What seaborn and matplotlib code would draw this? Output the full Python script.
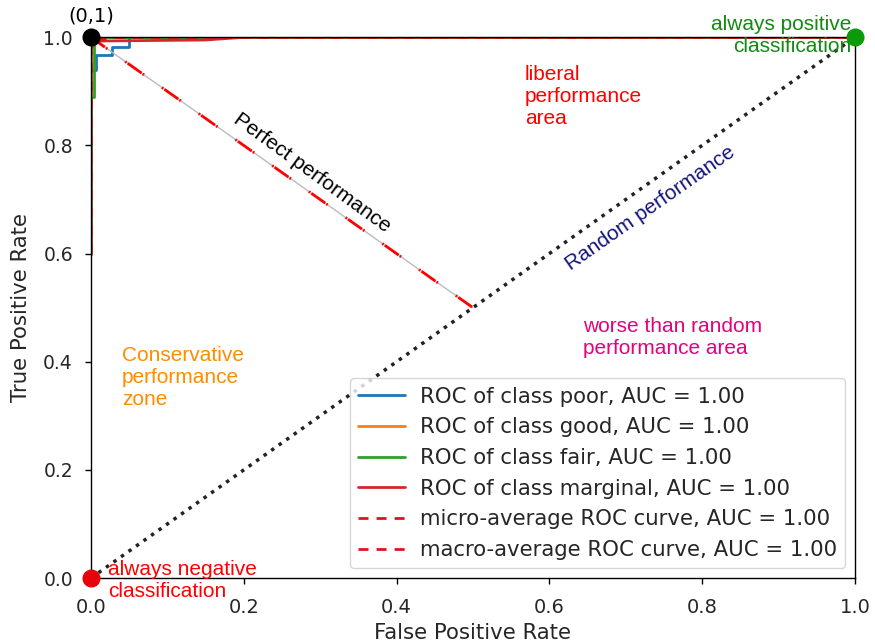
import matplotlib
matplotlib.use("Agg")
import matplotlib.pyplot as plt
import seaborn as sns
import pandas as pd

# ---- data ----
fpr_poor = [0.0, 0.0, 0.007, 0.007, 0.028, 0.028, 0.05, 0.05, 1.0]
tpr_poor = [0.6, 0.94, 0.94, 0.968, 0.968, 0.982, 0.982, 1.0, 1.0]
fpr_good = [0.0, 0.0, 1.0]
tpr_good = [0.6, 1.0, 1.0]
fpr_fair = [0.0, 0.0, 0.004, 0.004, 1.0]
tpr_fair = [0.6, 0.89, 0.89, 1.0, 1.0]
fpr_marginal = [0.0, 0.0, 0.15, 0.2, 1.0]
tpr_marginal = [0.6, 0.993, 0.995, 1.0, 1.0]
fpr_micro = [0.0, 0.0, 0.01, 1.0]
tpr_micro = [0.6, 0.98, 1.0, 1.0]
fpr_macro = [0.0, 0.0, 0.03, 1.0]
tpr_macro = [0.6, 0.99, 1.0, 1.0]

class_names = ["poor", "good", "fair", "marginal"]
class_auc = [1.00, 1.00, 1.00, 1.00]
micro_auc = 1.00
macro_auc = 1.00

random_x = [0.0, 1.0]
random_y = [0.0, 1.0]
perfect_x = [0.0, 0.5]
perfect_y = [1.0, 0.5]

ticks = [0.0, 0.2, 0.4, 0.6, 0.8, 1.0]

# ---- style ----
sns.set_theme(style="ticks", rc={
    "axes.edgecolor": "black",
    "axes.linewidth": 1.0,
    "xtick.major.size": 4,
    "ytick.major.size": 4,
    "xtick.major.width": 1.0,
    "ytick.major.width": 1.0,
    "xtick.color": "black",
    "ytick.color": "black",
    "xtick.labelcolor": "0.15",
    "ytick.labelcolor": "0.15",
})
plt.rcParams["font.family"] = ["DejaVu Sans"]

fig = plt.figure(figsize=(8.75, 6.43), dpi=100)
ax = fig.add_axes([0.104, 0.101, 0.873, 0.841])

dash = (0, (3.6, 2.9))
curves = [
    (fpr_poor, tpr_poor, "tab:blue", "-", f"ROC of class {class_names[0]}, AUC = {class_auc[0]:.2f}"),
    (fpr_good, tpr_good, "tab:orange", "-", f"ROC of class {class_names[1]}, AUC = {class_auc[1]:.2f}"),
    (fpr_fair, tpr_fair, "tab:green", "-", f"ROC of class {class_names[2]}, AUC = {class_auc[2]:.2f}"),
    (fpr_marginal, tpr_marginal, "tab:red", "-", f"ROC of class {class_names[3]}, AUC = {class_auc[3]:.2f}"),
    (fpr_micro, tpr_micro, "#e0141e", dash, f"micro-average ROC curve, AUC = {micro_auc:.2f}"),
    (fpr_macro, tpr_macro, "#e0141e", dash, f"macro-average ROC curve, AUC = {macro_auc:.2f}"),
]
for fx, ty, col, ls, lab in curves:
    df = pd.DataFrame({"fpr": fx, "tpr": ty})
    sns.lineplot(data=df, x="fpr", y="tpr", sort=False, estimator=None,
                 color=col, linestyle=ls, lw=2, label=lab, ax=ax)

# random diagonal
sns.lineplot(x=random_x, y=random_y, sort=False, estimator=None, color="#222222",
             linestyle=":", lw=2.5, ax=ax, legend=False)
# perfect performance line
sns.lineplot(x=perfect_x, y=perfect_y, sort=False, estimator=None, color="#bbbbbb",
             lw=1.0, ax=ax, legend=False)
sns.lineplot(x=perfect_x, y=perfect_y, sort=False, estimator=None, color="red",
             linestyle=(0, (6.1, 0.5, 0.6, 7.9, 0.6, 0.5)), lw=2.0, ax=ax, legend=False)

ax.set_xlim(0, 1)
ax.set_ylim(0, 1)
ax.set_xticks(ticks)
ax.set_yticks(ticks)
ax.set_xticklabels([f"{t:.1f}" for t in ticks])
ax.set_yticklabels([f"{t:.1f}" for t in ticks])
ax.tick_params(axis="x", labelsize=14, pad=10)
ax.tick_params(axis="y", labelsize=13.5, pad=9)
ax.set_xlabel("False Positive Rate", fontsize=15.3, color="0.15", labelpad=5)
ax.set_ylabel("True Positive Rate", fontsize=15.3, color="0.15", labelpad=9)

leg = ax.legend(loc="lower right", fontsize=15.3, labelspacing=0.5, handlelength=2.2,
                handletextpad=0.7, frameon=True, framealpha=0.8, edgecolor="0.8",
                fancybox=True, borderaxespad=0.45)

# corner points
ax.plot([0], [1], "o", color="black", ms=12, clip_on=False, zorder=10)
ax.plot([0], [0], "o", color="#e8000b", ms=12, clip_on=False, zorder=10)
ax.plot([1], [1], "o", color="#0a9a0a", ms=12, clip_on=False, zorder=10)

ann = dict(family=["Liberation Sans", "DejaVu Sans"], fontsize=15)
ax.text(0.0, 1.04, "(0,1)", ha="center", va="center", fontsize=14, color="black",
        clip_on=False)
ax.text(0.022, -0.004, "always negative\nclassification", ha="left", va="center",
        color="#ff0000", clip_on=False, zorder=11, **ann)
ax.text(0.996, 1.004, "always positive\nclassification", ha="right", va="center",
        color="#128a12", clip_on=False, zorder=11, **ann)
ax.text(0.568, 0.891, "liberal\nperformance\narea", ha="left", va="center",
        color="#ff0000", **ann)
ax.text(0.644, 0.444, "worse than random\nperformance area", ha="left", va="center",
        color="#e6007e", **ann)
ax.text(0.0406, 0.3715, "Conservative\nperformance\nzone", ha="left", va="center",
        color="#ff8c00", **ann)
ax.text(0.29, 0.749, "Perfect performance", ha="center", va="center",
        rotation=-36, rotation_mode="anchor", color="black", **ann)
ax.text(0.732, 0.684, "Random performance", ha="center", va="center",
        rotation=35, rotation_mode="anchor", color="#14147a", **ann)

fig.savefig("out.png", dpi=100)
